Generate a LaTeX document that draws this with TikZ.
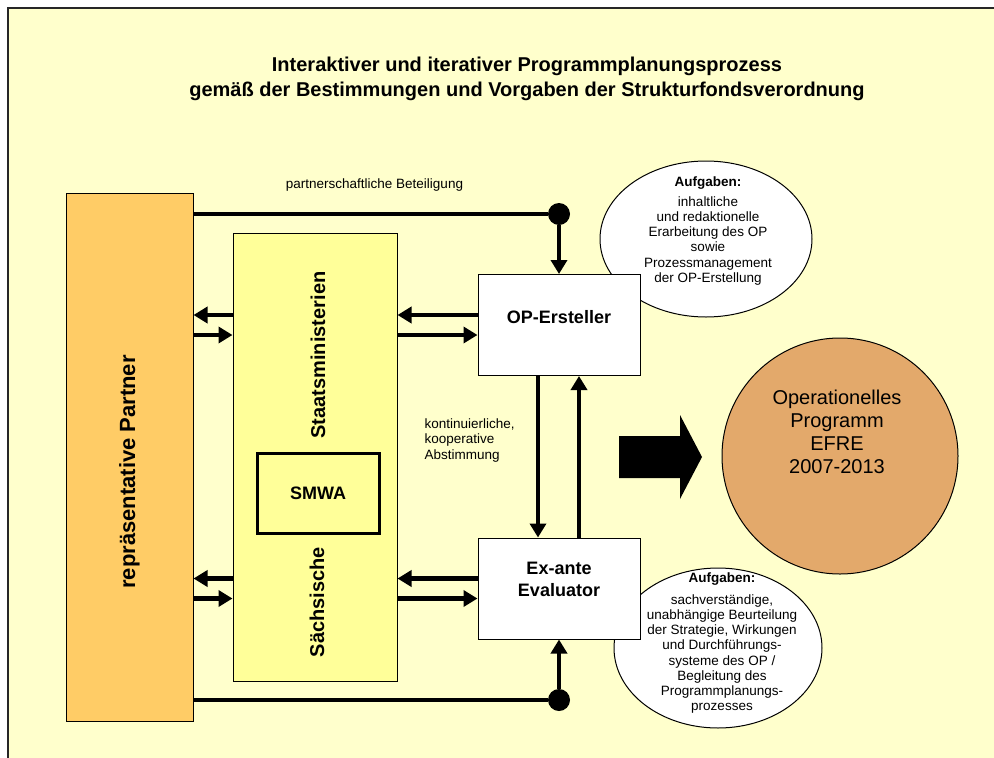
\documentclass[tikz,border=0pt]{standalone}
\usepackage{fontspec}
\setmainfont{Liberation Sans}
\usetikzlibrary{arrows.meta, positioning, calc, shapes.geometric}
\definecolor{paleYellow}{HTML}{FFFFCC}
\definecolor{boxYellow}{HTML}{FFFF99}
\definecolor{partnerOrange}{HTML}{FFCC66}
\definecolor{progBrown}{HTML}{E3A96B}

\begin{document}
\begin{tikzpicture}[x=1pt, y=-1pt,
  panel/.style={draw=black, line width=1pt, inner sep=0pt},
  actor/.style={panel, fill=white, minimum width=162pt, minimum height=101pt},
  bubble/.style={ellipse, draw=black, line width=1pt, fill=white, inner sep=0pt},
  note/.style={align=center, font=\fontsize{13.5}{15.2}\selectfont},
  boxlabel/.style={align=center, font=\fontsize{18}{22}\selectfont\bfseries},
  vtext/.style={rotate=90, font=\fontsize{20}{24}\selectfont\bfseries},
  flow/.style={line width=4.2pt},
  flowarr/.style={flow, -{Triangle[length=14pt, width=16pt]}},
  junction/.style={circle, fill=black, minimum size=22pt, inner sep=0pt}
]
  \useasboundingbox (0,0) rectangle (994,758);
  \fill[white] (0,0) rectangle (994,758);
  \fill[paleYellow] (8,8) rectangle (994,758);
  \draw[line width=1.5pt, black!85] (8,758) -- (8,8) -- (994,8);

  % title
  \node[align=center, font=\fontsize{20}{25}\selectfont\bfseries] (title) at (527,78.5)
    {Interaktiver und iterativer Programmplanungsprozess\\
     gemäß der Bestimmungen und Vorgaben der Strukturfondsverordnung};

  % task bubbles (behind the actor boxes)
  \node[bubble, minimum width=212pt, minimum height=156pt] (taskop) at (706,239) {};
  \node[note] (taskoptext) at (708,231) {\textbf{Aufgaben:}\\[4.5pt]
    inhaltliche\\und redaktionelle\\Erarbeitung des OP\\sowie\\
    Prozessmanagement\\der OP-Erstellung};
  \node[bubble, minimum width=208pt, minimum height=160pt] (taskev) at (718,648) {};
  \node[note] (taskevtext) at (722,643) {\textbf{Aufgaben:}\\[7pt]
    sachverständige,\\unabhängige Beurteilung\\der Strategie, Wirkungen\\
    und Durchführungs-\\systeme des OP /\\Begleitung des\\
    Programmplanungs-\\prozesses};

  % partners and ministries
  \node[panel, fill=partnerOrange, minimum width=127pt, minimum height=528pt] (partner) at (129.5,457) {};
  \node[vtext, font=\fontsize{22}{26}\selectfont\bfseries] (partnertext) at (129.5,472) {repräsentative Partner};
  \node[panel, fill=boxYellow, minimum width=164pt, minimum height=448pt] (staats) at (315,457) {};
  \node[vtext] (staatstext) at (318,355) {Staatsministerien};
  \node[vtext] (saxtext) at (317,602) {Sächsische};
  \node[panel, line width=3pt, minimum width=122pt, minimum height=80pt, boxlabel] (smwa) at (318,493) {SMWA};

  % actors
  \node[actor] (oper) at (559,325) {};
  \node[boxlabel] (opertext) at (559,317.5) {OP-Ersteller};
  \node[actor] (eval) at (559,588.5) {};
  \node[boxlabel] (evaltext) at (559,579.5) {Ex-ante\\Evaluator};

  % result
  \node[circle, draw=black, line width=1pt, fill=progBrown, minimum size=236pt, inner sep=0pt] (prog) at (840,456) {};
  \node[align=center, font=\fontsize{20}{23}\selectfont] (progtext) at (837,432)
    {Operationelles\\Programm\\EFRE\\2007-2013};
  \fill (619,436) -- (680,436) -- (680,415) -- (702,457) -- (680,499) -- (680,478) -- (619,478) -- cycle;

  % labels
  \node[note] (partlabel) at (374.5,185) {partnerschaftliche Beteiligung};
  \node[note, align=left, anchor=west] (coop) at (421,440.5) {kontinuierliche,\\kooperative\\Abstimmung};

  % partnership lines
  \node[junction] (jtop) at (559,214) {};
  \node[junction] (jbot) at (559,700) {};
  \draw[flow] (partner.east |- jtop) -- (jtop);
  \draw[flowarr] (jtop) -- (oper.north);
  \draw[flow] (partner.east |- jbot) -- (jbot);
  \draw[flowarr] (jbot) -- (eval.south);

  % exchange arrows
  \coordinate (opUp) at ([yshift=10pt]oper.west);
  \coordinate (opDn) at ([yshift=-10pt]oper.west);
  \coordinate (evUp) at ([yshift=10pt]eval.west);
  \coordinate (evDn) at ([yshift=-10pt]eval.west);
  \draw[flowarr] (opUp) -- (staats.east |- opUp);
  \draw[flowarr] (staats.east |- opDn) -- (opDn);
  \draw[flowarr] (evUp) -- (staats.east |- evUp);
  \draw[flowarr] (staats.east |- evDn) -- (evDn);
  \draw[flowarr] (staats.west |- opUp) -- (partner.east |- opUp);
  \draw[flowarr] (partner.east |- opDn) -- (staats.west |- opDn);
  \draw[flowarr] (staats.west |- evUp) -- (partner.east |- evUp);
  \draw[flowarr] (partner.east |- evDn) -- (staats.west |- evDn);

  % coordination between OP-Ersteller and evaluator
  \coordinate (coDown) at ([xshift=-21pt]oper.south);
  \coordinate (coUp) at ([xshift=20pt]eval.north);
  \draw[flowarr] (coDown) -- (coDown |- eval.north);
  \draw[flowarr] (coUp) -- (coUp |- oper.south);
\end{tikzpicture}
\end{document}
